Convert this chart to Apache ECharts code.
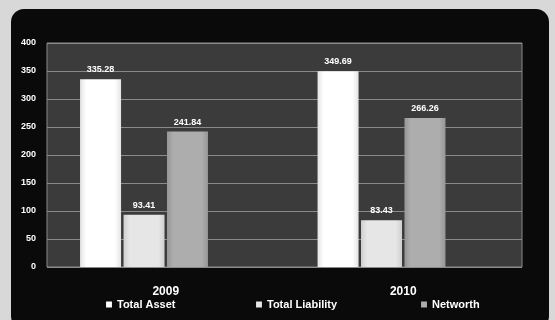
<!DOCTYPE html>
<html>
<head>
<meta charset="utf-8">
<script src="https://cdn.jsdelivr.net/npm/echarts@6/dist/echarts.min.js"></script>
<style>
  html, body { margin: 0; padding: 0; background: #d8d8d8; }
  #chart { width: 555px; height: 320px; }
</style>
</head>
<body>
<div id="chart"></div>
<script>
// Balance-sheet summary by year (values in crores)
const years = ['2009', '2010'];
const totalAsset = [335.28, 349.69];
const totalLiability = [93.41, 83.43];
const networth = [241.84, 266.26];
const yTicks = [0, 50, 100, 150, 200, 250, 300, 350, 400];
const seriesNames = ['Total Asset', 'Total Liability', 'Networth'];

const FONT = '"Liberation Sans", Arial, sans-serif';

function barGradient(edge, mid) {
  return new echarts.graphic.LinearGradient(0, 0, 1, 0, [
    { offset: 0, color: edge },
    { offset: 0.15, color: mid },
    { offset: 0.85, color: mid },
    { offset: 1, color: edge }
  ]);
}

const valueLabel = {
  show: true,
  position: 'top',
  distance: 5,
  color: '#ffffff',
  fontFamily: FONT,
  fontWeight: 'bold',
  fontSize: 9,
  formatter: p => p.value.toFixed(2)
};

// one legend box per series so each entry sits under its own spot
const legendLefts = [101, 251, 416];
const legends = seriesNames.map((name, i) => ({
  data: [name],
  left: legendLefts[i],
  top: 294,
  itemWidth: 6,
  itemHeight: 6,
  itemGap: 5,
  icon: 'rect',
  textStyle: { color: '#ffffff', fontFamily: FONT, fontWeight: 'bold', fontSize: 11 }
}));

const chart = echarts.init(document.getElementById('chart'), null, { renderer: 'canvas' });

chart.setOption({
  backgroundColor: '#d8d8d8',
  animation: false,
  graphic: [{
    type: 'rect',
    z: -10,
    shape: { x: 11, y: 9, width: 538, height: 320, r: 13 },
    style: { fill: '#0a0a0a' }
  }],
  grid: {
    left: 47, right: 33, top: 43, bottom: 53,
    show: true,
    backgroundColor: '#3b3b3b',
    borderColor: '#8a8a8a',
    borderWidth: 1
  },
  legend: legends,
  xAxis: {
    type: 'category',
    data: years,
    axisLine: { show: false },
    axisTick: { show: false },
    axisLabel: { color: '#ffffff', fontFamily: FONT, fontWeight: 'bold', fontSize: 12, margin: 19 }
  },
  yAxis: {
    type: 'value',
    min: yTicks[0],
    max: yTicks[yTicks.length - 1],
    interval: yTicks[1] - yTicks[0],
    axisLine: { show: false },
    axisTick: { show: false },
    axisLabel: { color: '#ffffff', fontFamily: FONT, fontWeight: 'bold', fontSize: 9, margin: 11 },
    splitLine: { lineStyle: { color: '#8a8a8a', width: 1 } }
  },
  series: [
    {
      name: seriesNames[0], type: 'bar', data: totalAsset,
      barWidth: 41, barGap: '6%',
      itemStyle: { color: barGradient('#e4e4e4', '#ffffff') },
      label: valueLabel
    },
    {
      name: seriesNames[1], type: 'bar', data: totalLiability,
      barWidth: 41, barGap: '6%',
      itemStyle: { color: barGradient('#cfcfcf', '#e6e6e6') },
      label: valueLabel
    },
    {
      name: seriesNames[2], type: 'bar', data: networth,
      barWidth: 41, barGap: '6%',
      itemStyle: { color: barGradient('#969696', '#adadad') },
      label: valueLabel
    },
    {
      // empty slot that keeps the group left of the category centre
      name: 'spacer', type: 'bar', data: [null, null],
      barWidth: 41, barGap: '6%',
      itemStyle: { color: 'transparent' }
    }
  ]
});
</script>
</body>
</html>
